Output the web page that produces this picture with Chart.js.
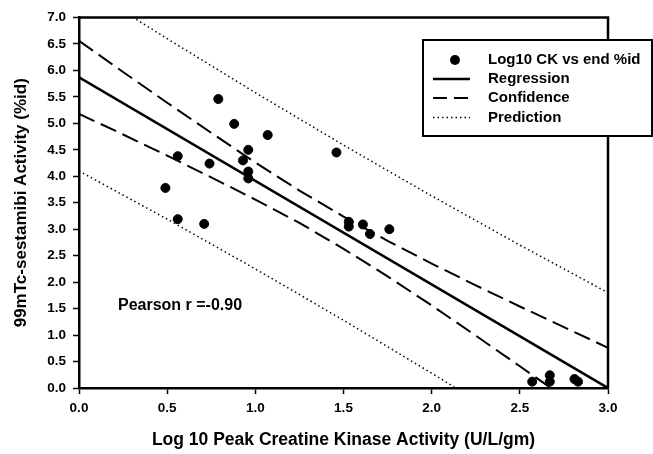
<!DOCTYPE html>
<html>
<head>
<meta charset="utf-8">
<script src="https://cdn.jsdelivr.net/npm/chart.js@4/dist/chart.umd.min.js"></script>
<style>
  body { margin: 0; background: #fff; }
  #wrap { width: 653px; height: 454px; }
</style>
</head>
<body>
<div id="wrap"><canvas id="myChart"></canvas></div>
<script>
// scatter points: log10 CK vs end %id
const ckX = [0.79, 0.88, 1.07, 0.96, 0.56, 0.74, 0.93, 0.96, 0.96, 0.49, 0.56, 0.71,
  1.46, 1.53, 1.53, 1.61, 1.65, 1.76, 2.57, 2.67, 2.67, 2.81, 2.83];
const idY = [5.46, 4.99, 4.78, 4.50, 4.38, 4.24, 4.30, 4.09, 3.96, 3.78, 3.19, 3.10,
  4.45, 3.14, 3.05, 3.09, 2.91, 3.00, 0.12, 0.24, 0.12, 0.17, 0.12];

// regression line
const regX = [0, 3];
const regY = [5.87, 0];

// confidence band
const confX = [0, 0.25, 0.5, 0.75, 1.0, 1.25, 1.5, 1.75, 2.0, 2.25, 2.5, 2.75, 3.0];
const confUpper = [6.56, 5.97, 5.39, 4.82, 4.26, 3.73, 3.24, 2.78, 2.35, 1.94, 1.54, 1.15, 0.76];
const confLower = [5.18, 4.79, 4.39, 3.98, 3.56, 3.12, 2.63, 2.11, 1.56, 0.99, 0.41, -0.17, -0.76];

// prediction band
const predX = [0, 0.5, 1.0, 1.5, 2.0, 2.5, 3.0];
const predUpper = [7.64, 6.60, 5.58, 4.59, 3.63, 2.70, 1.80];
const predLower = [4.10, 3.19, 2.25, 1.28, 0.28, -0.75, -1.80];

const legendLabels = ["Log10 CK vs end %id", "Regression", "Confidence", "Prediction"];
const pearsonText = "Pearson r =-0.90";

function pts(xs, ys) {
  return xs.map((x, i) => ({ x: x, y: ys[i] }));
}

Chart.defaults.font.family = "'Liberation Sans', Arial, sans-serif";
Chart.defaults.color = "#000";

const dashConf = [17, 7],
  dashPred = [1.5, 3];

function lineSet(label, data, width, dash) {
  return {
    label: label,
    data: data,
    showLine: true,
    fill: false,
    pointRadius: 0,
    borderColor: "#000",
    borderWidth: width,
    borderDash: dash,
  };
}

// frame, annotation text and the boxed legend
const extras = {
  id: "extras",
  afterDraw(chart) {
    const ctx = chart.ctx;
    const a = chart.chartArea;
    ctx.save();
    ctx.strokeStyle = "#000";
    ctx.lineWidth = 2.5;
    ctx.beginPath();
    ctx.moveTo(a.left, a.top);
    ctx.lineTo(a.right, a.top);
    ctx.lineTo(a.right, a.bottom);
    ctx.stroke();

    ctx.fillStyle = "#000";
    ctx.font = "bold 16px 'Liberation Sans', Arial, sans-serif";
    ctx.textBaseline = "middle";
    ctx.fillText(pearsonText, 118, 306);

    // legend box
    ctx.fillStyle = "#fff";
    ctx.fillRect(423, 40, 229, 96);
    ctx.lineWidth = 2;
    ctx.strokeRect(423, 40, 229, 96);

    const rows = [60, 79, 98, 117.5];
    ctx.fillStyle = "#000";
    ctx.beginPath();
    ctx.arc(455, rows[0], 5, 0, Math.PI * 2);
    ctx.fill();

    ctx.lineWidth = 2.5;
    ctx.beginPath();
    ctx.moveTo(433, rows[1]);
    ctx.lineTo(470, rows[1]);
    ctx.stroke();

    ctx.lineWidth = 2;
    ctx.setLineDash([14, 7]);
    ctx.beginPath();
    ctx.moveTo(433, rows[2]);
    ctx.lineTo(470, rows[2]);
    ctx.stroke();

    ctx.lineWidth = 1.5;
    ctx.setLineDash(dashPred);
    ctx.beginPath();
    ctx.moveTo(433, rows[3]);
    ctx.lineTo(470, rows[3]);
    ctx.stroke();
    ctx.setLineDash([]);

    ctx.font = "bold 15px 'Liberation Sans', Arial, sans-serif";
    legendLabels.forEach((t, i) => ctx.fillText(t, 488, rows[i]));
    ctx.restore();
  },
};

let chart = new Chart("myChart", {
  type: "scatter",
  data: {
    datasets: [
      lineSet("Prediction upper", pts(predX, predUpper), 1.5, dashPred),
      lineSet("Prediction lower", pts(predX, predLower), 1.5, dashPred),
      lineSet("Confidence upper", pts(confX, confUpper), 2, dashConf),
      lineSet("Confidence lower", pts(confX, confLower), 2, dashConf),
      lineSet("Regression", pts(regX, regY), 2.6, []),
      {
        label: "Log10 CK vs end %id",
        data: pts(ckX, idY),
        pointRadius: 4.5,
        pointBackgroundColor: "#000",
        pointBorderColor: "#000",
        pointBorderWidth: 1,
      },
    ],
  },
  options: {
    responsive: true,
    maintainAspectRatio: false,
    animation: false,
    layout: { padding: { top: 17.5, right: 45, left: 0, bottom: 0 } },
    plugins: {
      legend: { display: false },
      tooltip: { enabled: false },
    },
    scales: {
      x: {
        type: "linear",
        min: 0,
        max: 3,
        afterFit: (s) => { s.height = 66; },
        border: { display: true, color: "#000", width: 2.5 },
        grid: { drawOnChartArea: false, drawTicks: true, tickLength: 6, color: "#000", tickWidth: 1.5 },
        ticks: {
          stepSize: 0.5,
          padding: 6,
          font: { size: 13.5, weight: "bold" },
          callback: (v) => v.toFixed(1),
        },
        title: {
          display: true,
          text: "Log 10 Peak Creatine Kinase Activity (U/L/gm)",
          font: { size: 17.5, weight: "bold" },
          padding: { top: 0, bottom: 3 },
        },
      },
      y: {
        type: "linear",
        min: 0,
        max: 7,
        afterFit: (s) => { s.width = 79; },
        border: { display: true, color: "#000", width: 2.5 },
        grid: { drawOnChartArea: false, drawTicks: true, tickLength: 6, color: "#000", tickWidth: 1.5 },
        ticks: {
          stepSize: 0.5,
          padding: 7,
          font: { size: 13.5, weight: "bold" },
          callback: (v) => v.toFixed(1),
        },
        title: {
          display: true,
          text: "99mTc-sestamibi Activity (%id)",
          font: { size: 17, weight: "bold" },
          padding: { top: 11, bottom: 0 },
        },
      },
    },
  },
  plugins: [extras],
});
</script>
</body>
</html>
